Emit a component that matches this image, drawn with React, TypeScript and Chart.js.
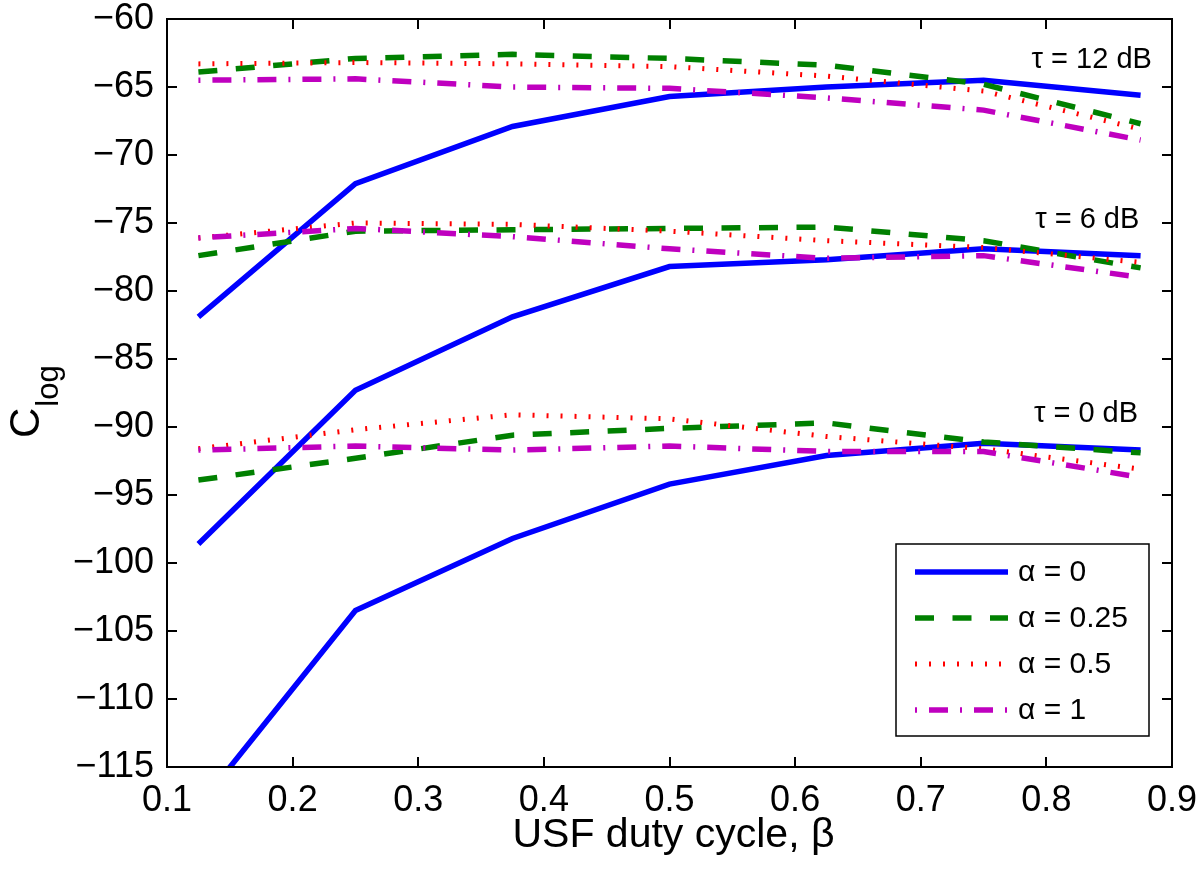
import React, { useEffect, useRef } from "react";
import { Chart, registerables } from "chart.js";

Chart.register(...registerables);

// ---- data ----
const BETA = [0.125, 0.25, 0.375, 0.5, 0.625, 0.75, 0.875];

const TAU12_A0 = [-81.9, -72.1, -67.9, -65.7, -65.0, -64.5, -65.6];
const TAU12_A025 = [-63.9, -62.9, -62.6, -62.9, -63.4, -64.8, -67.7];
const TAU12_A05 = [-63.3, -63.2, -63.3, -63.5, -64.2, -65.3, -68.1];
const TAU12_A1 = [-64.5, -64.4, -65.0, -65.1, -65.8, -66.7, -68.9];

const TAU6_A0 = [-98.6, -87.3, -81.9, -78.2, -77.7, -76.9, -77.4];
const TAU6_A025 = [-77.4, -75.6, -75.5, -75.4, -75.3, -76.3, -78.3];
const TAU6_A05 = [-76.1, -75.0, -75.1, -75.6, -76.3, -76.8, -77.9];
const TAU6_A1 = [-76.1, -75.4, -76.0, -76.9, -77.6, -77.4, -79.0];

const TAU0_A0 = [-117.9, -103.5, -98.2, -94.2, -92.1, -91.2, -91.7];
const TAU0_A025 = [-93.9, -92.3, -90.6, -90.1, -89.7, -91.1, -91.9];
const TAU0_A05 = [-91.6, -90.2, -89.1, -89.4, -90.7, -91.6, -93.1];
const TAU0_A1 = [-91.7, -91.4, -91.7, -91.4, -91.8, -91.8, -93.7];

const ALPHA_LABELS = ["α = 0", "α = 0.25", "α = 0.5", "α = 1"];
const TAU_LABELS = ["τ = 12 dB", "τ = 6 dB", "τ = 0 dB"];
const X_TITLE = "USF duty cycle, β";
const Y_TITLE_MAIN = "C";
const Y_TITLE_SUB = "log";

const X_MIN = 0.1;
const X_MAX = 0.9;
const Y_MIN = -115;
const Y_MAX = -60;

// ---- styles ----
const FONT = "'Liberation Sans', Arial, Helvetica, sans-serif";
const STYLES = [
  { color: "#0000ff", dash: [] as number[], width: 5.5 },
  { color: "#008000", dash: [19, 18.5], width: 5.5 },
  { color: "#ff0000", dash: [2, 12], width: 5 },
  { color: "#bf00bf", dash: [2, 12, 19, 12], width: 5.5 },
];

const GROUPS = [
  [TAU12_A0, TAU12_A025, TAU12_A05, TAU12_A1],
  [TAU6_A0, TAU6_A025, TAU6_A05, TAU6_A1],
  [TAU0_A0, TAU0_A025, TAU0_A05, TAU0_A1],
];

// annotation anchor (data coords, right-aligned text)
const TAU_POS = [
  { x: 0.884, y: -63.6 },
  { x: 0.874, y: -75.35 },
  { x: 0.873, y: -89.6 },
];

const overlayPlugin = {
  id: "matlabOverlay",
  afterDatasetsDraw(chart: any) {
    const { ctx, chartArea: a, scales } = chart;
    const xs = scales.x;
    const ys = scales.y;
    ctx.save();
    ctx.strokeStyle = "#000";
    ctx.lineWidth = 2;
    ctx.setLineDash([]);
    // box
    ctx.strokeRect(a.left, a.top, a.right - a.left, a.bottom - a.top);
    // inward ticks
    ctx.beginPath();
    const TL = 10;
    ys.ticks.forEach((t: any) => {
      const py = Math.round(ys.getPixelForValue(t.value));
      ctx.moveTo(a.left, py);
      ctx.lineTo(a.left + TL, py);
      ctx.moveTo(a.right, py);
      ctx.lineTo(a.right - TL, py);
    });
    xs.ticks.forEach((t: any) => {
      const px = Math.round(xs.getPixelForValue(t.value));
      ctx.moveTo(px, a.bottom);
      ctx.lineTo(px, a.bottom - TL);
      ctx.moveTo(px, a.top);
      ctx.lineTo(px, a.top + TL);
    });
    ctx.stroke();

    ctx.fillStyle = "#000";
    // tau annotations
    ctx.font = `29px ${FONT}`;
    ctx.textAlign = "right";
    ctx.textBaseline = "alphabetic";
    TAU_LABELS.forEach((lab, i) => {
      ctx.fillText(lab, xs.getPixelForValue(TAU_POS[i].x), ys.getPixelForValue(TAU_POS[i].y));
    });

    // x title
    ctx.font = `41px ${FONT}`;
    ctx.textAlign = "center";
    ctx.fillText(X_TITLE, (a.left + a.right) / 2 + 4, 847);

    // y title rotated with subscript
    ctx.save();
    ctx.translate(38.5, 438);
    ctx.rotate(-Math.PI / 2);
    ctx.textAlign = "left";
    ctx.font = `42px ${FONT}`;
    ctx.fillText(Y_TITLE_MAIN, 0, 0);
    const w = ctx.measureText(Y_TITLE_MAIN).width;
    ctx.font = `31px ${FONT}`;
    ctx.fillText(Y_TITLE_SUB, w + 1, 19.5);
    ctx.restore();

    // legend
    const lx0 = a.right - 276;
    const lx1 = a.right - 23;
    const ly0 = a.bottom - 223;
    const ly1 = a.bottom - 31;
    ctx.fillStyle = "#fff";
    ctx.fillRect(lx0, ly0, lx1 - lx0, ly1 - ly0);
    ctx.strokeStyle = "#000";
    ctx.lineWidth = 1.5;
    ctx.strokeRect(lx0, ly0, lx1 - lx0, ly1 - ly0);
    ALPHA_LABELS.forEach((lab, i) => {
      const cy = ly0 + 28 + i * 46;
      const st = STYLES[i];
      ctx.beginPath();
      ctx.strokeStyle = st.color;
      ctx.lineWidth = st.width;
      ctx.setLineDash(st.dash);
      ctx.lineCap = "butt";
      ctx.moveTo(lx0 + 19, cy);
      ctx.lineTo(lx0 + 112, cy);
      ctx.stroke();
      ctx.setLineDash([]);
      ctx.fillStyle = "#000";
      ctx.font = `30px ${FONT}`;
      ctx.textAlign = "left";
      ctx.textBaseline = "middle";
      ctx.fillText(lab, lx0 + 122, cy + 1);
    });
    ctx.restore();
  },
};

export default function App() {
  const ref = useRef<HTMLCanvasElement | null>(null);
  useEffect(() => {
    if (!ref.current) return;
    const datasets: any[] = [];
    let idx = 0;
    GROUPS.forEach((group) => {
      group.forEach((vals, ai) => {
        const st = STYLES[ai];
        datasets.push({
          label: ALPHA_LABELS[ai],
          data: BETA.map((b, k) => ({ x: b, y: vals[k] })),
          borderColor: st.color,
          backgroundColor: st.color,
          borderWidth: st.width,
          borderDash: st.dash,
          borderCapStyle: "butt",
          borderJoinStyle: "miter",
          pointRadius: 0,
          pointHoverRadius: 0,
          tension: 0,
          fill: false,
          clip: 0,
          order: -idx,
        });
        idx++;
      });
    });
    const chart = new Chart(ref.current, {
      type: "line",
      data: { datasets },
      options: {
        animation: false,
        responsive: false,
        devicePixelRatio: 1,
        layout: { padding: { top: 19, right: 28, left: 0, bottom: 0 } },
        plugins: { legend: { display: false }, tooltip: { enabled: false } },
        scales: {
          x: {
            type: "linear",
            min: X_MIN,
            max: X_MAX,
            grid: { display: false, drawTicks: false },
            border: { display: false },
            ticks: {
              stepSize: 0.1,
              color: "#000",
              padding: 12,
              maxRotation: 0,
              font: { family: FONT, size: 36 },
              callback: (v: any) => Number(v).toFixed(1),
            },
            afterFit: (s: any) => {
              s.height = 882 - 767;
              s.paddingLeft = 0;
              s.paddingRight = 0;
            },
          },
          y: {
            type: "linear",
            min: Y_MIN,
            max: Y_MAX,
            grid: { display: false, drawTicks: false },
            border: { display: false },
            ticks: {
              stepSize: 5,
              color: "#000",
              padding: 13,
              font: { family: FONT, size: 36 },
              callback: (v: any) => {
                const n = Math.round(Number(v));
                return n < 0 ? "\u2212" + Math.abs(n) : String(n);
              },
            },
            afterFit: (s: any) => {
              s.width = 167;
              s.paddingTop = 0;
              s.paddingBottom = 0;
            },
          },
        },
      },
      plugins: [overlayPlugin],
    });
    return () => chart.destroy();
  }, []);
  return (
    <div style={{ position: "fixed", left: 0, top: 0, width: 1200, height: 882, background: "#fff" }}>
      <canvas ref={ref} width={1200} height={882} style={{ width: 1200, height: 882, display: "block" }} />
    </div>
  );
}
